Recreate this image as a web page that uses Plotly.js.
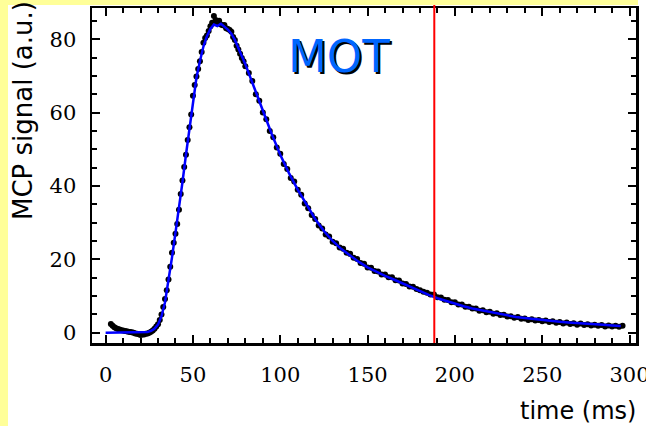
<!DOCTYPE html>
<html>
<head>
<meta charset="utf-8">
<script src="https://cdn.plot.ly/plotly-3.0.1.min.js"></script>
<style>html,body{margin:0;padding:0;background:#fff;}#chart{width:646px;height:426px;}</style>
</head>
<body>
<div id="chart"></div>
<script>
// Measured signal (black dots)
const dataTime = [3,4,5,6,7,8,9,10,11,12,13,14,15,16,17,18,19,20,21,22,23,24,25,26,27,28,29,30,
  31,32,33,34,35,36,37,38,39,40,41,42,43,44,45,46,47,48,49,50,51,52,53,54,55,56,57,58,59,60,
  61,62,63,64,65,66,67,68,69,70,71,72,73,74,75,76,77,78,79,80,
  82,84,86,88,90,92,94,96,98,100,102,104,106,108,110,112,114,116,118,120,122,124,126,128,130,
  132,134,136,138,140,142,144,146,148,150,152,154,156,158,160,162,164,166,168,170,172,174,176,178,180,
  182,184,186,188,190,192,194,196,198,200,202,204,206,208,210,212,214,216,218,220,222,224,226,228,230,
  232,234,236,238,240,242,244,246,248,250,252,254,256,258,260,262,264,266,268,270,272,274,276,278,280,
  282,284,286,288,290,292,294,296];
const dataSignal = [2.4,1.9,1.5,1.2,1.0,0.9,0.7,0.6,0.5,0.4,0.3,0.2,0.1,0.0,-0.2,-0.3,-0.4,-0.6,-0.5,-0.5,-0.3,-0.2,0.0,0.3,0.6,1.1,1.7,2.3,
  3.5,5.0,7.0,9.2,11.6,14.5,18.0,21.8,24.5,27.0,29.6,33.5,37.8,41.5,45.2,48.5,52.5,56.0,59.5,64.6,67.5,69.8,71.9,74.0,76.5,79.0,80.3,81.0,82.2,83.5,
  84.5,86.3,85.2,84.5,85.0,84.0,83.8,83.9,83.0,82.8,82.5,82.0,80.6,79.8,78.2,77.2,76.0,74.9,74.0,72.6,
  70.8,68.6,65.0,63.2,60.0,58.2,55.0,53.3,50.5,48.8,46.0,44.6,42.2,41.2,39.0,37.6,35.2,33.9,32.1,31.0,29.2,28.4,26.8,26.2,24.8,
  24.4,23.2,22.9,21.8,21.5,20.4,20.1,19.0,18.8,17.8,17.7,16.8,16.7,15.9,15.9,15.1,15.1,14.3,14.2,13.4,13.3,12.6,12.5,11.9,11.6,
  11.2,10.9,10.4,10.4,9.7,9.6,9.0,8.9,8.3,8.3,7.7,7.7,7.1,7.1,6.6,6.6,6.0,6.1,5.6,5.7,5.2,5.3,4.8,4.9,4.4,
  4.5,4.1,4.3,3.8,3.9,3.5,3.7,3.3,3.5,3.1,3.3,2.9,3.1,2.7,2.9,2.5,2.8,2.4,2.6,2.2,2.5,2.1,2.3,2.0,2.2,
  1.9,2.1,1.7,2.0,1.7,1.9,1.6,1.9];

// Fit curve (blue line)
const fitTime = [0,5,10,15,20,22,24,26,28,30,32,34,36,38,40,42,44,46,48,50,52,54,56,58,60,62,64,66,68,70,72,74,76,78,80,
  85,90,95,100,105,110,115,120,125,130,135,140,145,150,155,160,165,170,175,180,185,190,195,200,
  205,210,215,220,225,230,235,240,245,250,255,260,265,270,275,280,285,290,295];
const fitSignal = [0,0,0,0,0,0.05,0.2,0.5,1.1,2.2,4.5,8.3,14,20.5,27.3,33.5,41,48.5,56,63.5,69.5,74,78,80.8,82.8,84,83.6,84.2,83.5,82.6,81.5,79.8,77.6,75.4,73.2,
  66.9,60.5,54.3,48.5,43.5,39,34.8,31,27.7,25,22.8,21,19.3,17.8,16.6,15.5,14.5,13.4,12.3,11.3,10.3,9.4,8.6,7.9,
  7.2,6.6,6.1,5.6,5.1,4.7,4.3,4.0,3.7,3.4,3.2,3.0,2.8,2.6,2.45,2.3,2.15,2.0,1.85];

const markerTime = 188.2;
const xTickVals = [0,50,100,150,200,250,300];
const yTickVals = [0,20,40,60,80];
const labelText = "MOT";
const xTitle = "time (ms)";
const yTitle = "MCP signal (a.u.)";

const traces = [
  {x: dataTime, y: dataSignal, type: 'scatter', mode: 'markers',
   marker: {color: '#000000', size: 6}, hoverinfo: 'skip'},
  {x: fitTime, y: fitSignal, type: 'scatter', mode: 'lines',
   line: {color: '#0000ff', width: 2.5}, hoverinfo: 'skip'}
];

// plot area in px: l=92, r=10, t=8, b=83 -> width 544, height 335
const L = 92, T = 8, W = 544, H = 335;
const px = v => (v - L) / W;
const py = v => (T + H - v) / H;

const axisCommon = {
  showline: true, linecolor: '#000', linewidth: 2.5, mirror: 'ticks',
  ticks: 'inside', ticklen: 8, tickwidth: 2, tickcolor: '#000',
  showgrid: false, zeroline: false, ticklabeloverflow: 'allow',
  tickfont: {family: 'DejaVu Serif', size: 21, color: '#000'}
};

const layout = {
  width: 646, height: 426,
  margin: {l: L, r: 10, t: T, b: 83},
  paper_bgcolor: '#ffffff', plot_bgcolor: '#ffffff',
  showlegend: false,
  xaxis: Object.assign({}, axisCommon, {
    range: [-7.8, 303.7], tickvals: xTickVals, ticklabelstandoff: 11,
    minor: {dtick: 10, tick0: 0, ticks: 'inside', ticklen: 5, tickwidth: 2, tickcolor: '#000'}
  }),
  yaxis: Object.assign({}, axisCommon, {
    range: [-2.8, 88.5], tickvals: yTickVals, ticklabelstandoff: 9,
    minor: {dtick: 5, tick0: 0, ticks: 'inside', ticklen: 5, tickwidth: 2, tickcolor: '#000'}
  }),
  shapes: [
    {type: 'rect', xref: 'paper', yref: 'paper', x0: px(0), x1: px(8), y0: py(426), y1: py(0),
     fillcolor: '#ffff99', line: {width: 0}, layer: 'below'},
    {type: 'rect', xref: 'paper', yref: 'paper', x0: px(0), x1: px(638), y0: py(5), y1: py(0),
     fillcolor: '#ffff99', line: {width: 0}, layer: 'below'},
    {type: 'line', xref: 'x', yref: 'paper', x0: markerTime, x1: markerTime, y0: 0, y1: py(5),
     line: {color: '#ff0000', width: 2}}
  ],
  annotations: [
    {text: labelText, xref: 'paper', yref: 'paper', x: px(339), y: py(56), showarrow: false,
     xanchor: 'center', yanchor: 'middle',
     font: {family: 'DejaVu Sans', size: 45, color: '#0066ff', shadow: '2px 2px 0px #000000'}},
    {text: xTitle, xref: 'paper', yref: 'paper', x: px(638), y: py(411), showarrow: false,
     xanchor: 'right', yanchor: 'middle', font: {family: 'DejaVu Sans', size: 24, color: '#000'}},
    {text: yTitle, xref: 'paper', yref: 'paper', x: px(23), y: py(111), showarrow: false,
     textangle: -90, xanchor: 'center', yanchor: 'middle', font: {family: 'DejaVu Sans', size: 26, color: '#000'}}
  ]
};

Plotly.newPlot('chart', traces, layout, {displayModeBar: false, staticPlot: true});
</script>
</body>
</html>
